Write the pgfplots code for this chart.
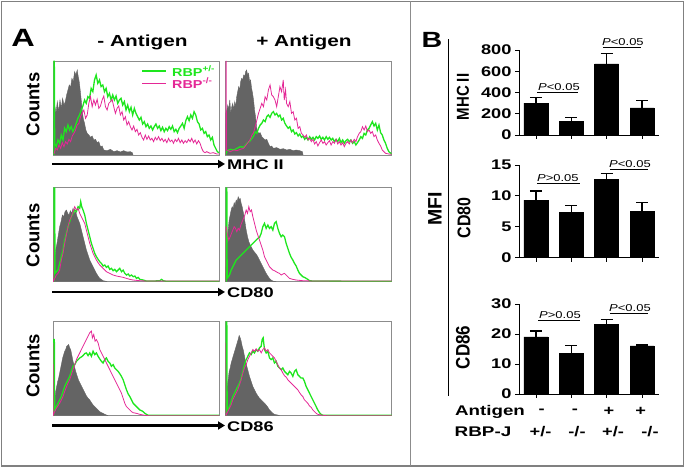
\documentclass[border=0pt]{standalone}
\usepackage{pgfplots}
\pgfplotsset{compat=1.18}
\usepackage{fontspec}
\setmainfont{Liberation Sans}
\usetikzlibrary{arrows.meta}
\definecolor{hgreen}{RGB}{30,230,30}
\definecolor{hmag}{RGB}{228,40,150}
\definecolor{hgray}{RGB}{100,100,100}
\newcommand\h[2][1.3]{\scalebox{#1}[1]{#2}}
\newcommand\fs[1]{\fontsize{#1}{#1}\selectfont}
\pgfplotsset{
  hist/.style={scale only axis, width=166pt, height=94pt, xtick=\empty, ytick=\empty,
    y dir=reverse, axis line style={black!45, line width=0.7pt}, clip=true, anchor=south west},
  gfill/.style={fill=hgray, draw=hgray, line width=0.4pt},
  gline/.style={hgreen, line width=1.3pt},
  mline/.style={hmag, line width=0.8pt},
  bars/.style={scale only axis, width=140pt, anchor=south west, ymin=0, xmin=0.52, xmax=4.48,
    axis x line*=bottom, axis y line*=left, axis line style={-, line width=0.8pt},
    xtick={1,2,3,4}, xticklabels={}, tick align=outside, major tick length=4pt,
    tick style={black, line width=0.8pt},
    /pgf/number format/assume math mode=true,
    yticklabel style={font=\bfseries\fs{14}},
    yticklabel={\h{\pgfmathprintnumber{\tick}}},
    ybar, bar width=24pt, clip=false},
  ebar/.style={fill=black, draw=black,
    error bars/.cd, y dir=plus, y explicit,
    error bar style={line width=1.2pt, black},
    error mark options={rotate=90, mark size=6pt, line width=1.2pt, black}},
}
\newcommand\pv[1]{\h{\fs{10}\textit{P}#1}}
\begin{document}
\begin{tikzpicture}[x=1pt,y=1pt]
\useasboundingbox (0,0) rectangle (685,468);
% frame
\draw[black!50, line width=1.2pt] (1.5,2) rectangle (683.5,466.5);
\draw[black!45, line width=1pt] (410,2) -- (410,466.5);
\draw[black, line width=0.8pt] (448,72) -- (448,429);
% panel A texts
\node at (23,430.5) {\h{\bfseries\fs{25}A}};
\node at (142.5,425.5) {\h{\bfseries\fs{16}- Antigen}};
\node at (304,425.5) {\h{\bfseries\fs{16}+ Antigen}};
\node[rotate=90] at (33,363.5) {\bfseries\fs{18.5}Counts};
\node[rotate=90] at (33,232.5) {\bfseries\fs{18.5}Counts};
\node[rotate=90] at (33,102) {\bfseries\fs{18.5}Counts};
\draw[line width=2.5pt, -{Triangle[length=7pt,width=8pt]}] (52,304) -- (225,304);
\draw[line width=2.5pt, -{Triangle[length=7pt,width=8pt]}] (52,176) -- (225,176);
\draw[line width=2.5pt, -{Triangle[length=7pt,width=8pt]}] (52,42.5) -- (225,42.5);
\node[anchor=west, inner sep=0pt] at (227,303) {\h{\bfseries\fs{14}MHC II}};
\node[anchor=west, inner sep=0pt] at (227,175) {\h{\bfseries\fs{14}CD80}};
\node[anchor=west, inner sep=0pt] at (227,41) {\h{\bfseries\fs{14}CD86}};

% ---------- P1: MHC II, - antigen
\begin{axis}[hist, at={(53pt,313pt)}, xmin=157, xmax=657, ymin=183, ymax=465]
\addplot[gfill] coordinates {(157,465) (158,330) (162,315) (166,340) (170,305) (174,335) (178,300) (182,325) (186,295) (190,315) (194,305) (198,285) (202,270) (206,255) (210,262) (214,235) (218,245) (222,215) (226,225) (230,210) (233,230) (236,245) (240,280) (244,320) (248,355) (252,370) (256,390) (260,400) (265,405) (270,412) (275,408) (280,420) (285,418) (290,428) (295,425) (300,440) (305,438) (310,450) (320,452) (330,448) (340,455) (350,452) (360,456) (370,452) (380,456) (390,455) (396,458) (398,465)};
\addplot[gline] coordinates {(160,465) (160,184) (161,184) (162,430) (167,440) (172,420) (177,430) (182,405) (187,420) (192,385) (197,395) (202,375) (207,390) (212,380) (217,395) (222,385) (227,370) (232,355) (237,345) (242,330) (247,318) (252,300) (257,310) (262,290) (267,295) (272,265) (277,275) (282,240) (287,225) (292,250) (297,240) (302,260) (307,255) (312,275) (317,265) (322,290) (327,280) (332,300) (337,285) (342,300) (347,288) (352,310) (357,300) (362,295) (367,315) (372,305) (377,330) (382,315) (387,335) (392,322) (397,345) (402,325) (407,340) (412,350) (417,360) (422,352) (427,372) (432,365) (437,380) (442,372) (447,385) (452,378) (457,390) (462,380) (467,372) (472,385) (477,378) (482,392) (487,382) (492,395) (497,385) (502,392) (507,380) (512,388) (517,378) (522,395) (527,388) (532,398) (537,385) (542,378) (547,370) (552,385) (557,362) (562,350) (567,362) (572,345) (577,355) (582,335) (587,345) (592,365) (597,372) (602,390) (607,385) (612,400) (617,395) (622,410) (627,405) (632,420) (637,412) (642,435) (647,445) (652,455) (657,458)};
\addplot[mline] coordinates {(160,462) (165,445) (170,450) (175,435) (180,445) (185,428) (190,440) (195,425) (200,432) (205,418) (210,425) (215,408) (220,400) (225,390) (230,375) (235,370) (240,350) (245,340) (250,330) (255,355) (260,345) (265,310) (270,290) (275,320) (280,300) (285,315) (290,298) (295,325) (300,318) (305,300) (310,288) (315,320) (320,330) (325,310) (330,305) (335,298) (340,320) (345,340) (350,325) (355,318) (360,345) (365,335) (370,360) (375,350) (380,375) (385,365) (390,380) (395,390) (400,378) (405,395) (410,388) (415,405) (420,398) (425,412) (430,420) (435,405) (440,418) (445,408) (450,420) (455,415) (460,425) (465,412) (470,420) (475,410) (480,422) (485,415) (490,425) (495,418) (500,428) (505,415) (510,425) (515,420) (520,430) (525,418) (530,425) (535,415) (540,428) (545,420) (550,430) (555,422) (560,428) (565,418) (570,425) (575,415) (580,428) (585,420) (590,432) (595,422) (600,430) (605,445) (610,455) (615,458) (620,455) (630,460) (640,458) (650,462) (657,462)};
\end{axis}
% legend of P1
\draw[hgreen, line width=1.3pt] (142,397) -- (166,397);
\draw[hmag, line width=0.8pt] (142,385) -- (166,385);
\node[anchor=west, inner sep=0pt, text=hgreen] at (172,397) {\h[1.25]{\bfseries\fs{11.5}RBP\textsuperscript{+/-}}};
\node[anchor=west, inner sep=0pt, text=hmag] at (172,385) {\h[1.25]{\bfseries\fs{11.5}RBP\textsuperscript{-/-}}};

% ---------- P2: MHC II, + antigen
\begin{axis}[hist, at={(225.5pt,313pt)}, xmin=15, xmax=518, ymin=183, ymax=465]
\addplot[gfill] coordinates {(15,465) (16,340) (19,330) (22,315) (25,330) (28,300) (31,340) (34,320) (37,310) (40,330) (43,305) (46,320) (49,290) (52,275) (55,260) (58,270) (61,245) (64,235) (67,240) (70,225) (73,230) (76,215) (79,210) (82,225) (85,220) (88,245) (91,240) (94,265) (97,280) (100,300) (103,330) (106,350) (109,380) (112,395) (116,400) (120,398) (125,410) (130,415) (135,420) (140,418) (145,430) (150,440) (155,438) (160,445) (170,443) (180,448) (190,446) (200,450) (210,448) (220,452) (230,450) (240,452) (248,455) (250,465)};
\addplot[gline] coordinates {(15,465) (20,452) (30,448) (40,450) (50,445) (60,440) (70,442) (80,430) (90,422) (95,415) (100,408) (105,395) (110,400) (115,385) (120,375) (125,370) (130,360) (135,365) (140,350) (145,345) (150,352) (155,340) (160,335) (165,345) (170,340) (175,350) (180,345) (185,360) (190,355) (195,370) (200,378) (205,385) (210,380) (215,395) (220,390) (225,402) (230,398) (235,408) (240,402) (245,412) (250,408) (255,418) (260,412) (265,420) (270,410) (275,418) (280,412) (285,420) (290,410) (295,415) (300,408) (305,418) (310,412) (315,420) (320,410) (325,418) (330,412) (335,420) (340,415) (345,425) (350,418) (355,425) (360,415) (365,428) (370,420) (375,430) (380,422) (385,418) (390,425) (395,420) (400,430) (405,425) (410,435) (415,428) (420,420) (425,410) (430,415) (435,400) (440,405) (445,390) (450,385) (455,375) (460,365) (465,378) (470,370) (475,390) (480,375) (485,398) (490,405) (495,420) (500,430) (505,445) (510,455) (518,462)};
\addplot[mline] coordinates {(15,465) (16,184) (17,184) (18,450) (30,455) (40,450) (50,452) (60,448) (70,445) (80,432) (85,425) (90,418) (95,405) (100,398) (105,380) (110,360) (115,340) (120,325) (125,310) (130,320) (135,290) (140,300) (145,270) (150,255) (155,285) (160,290) (165,300) (170,320) (175,290) (180,260) (185,275) (190,240) (193,300) (197,270) (200,310) (205,320) (210,305) (215,340) (220,335) (225,360) (230,355) (235,385) (240,380) (245,400) (250,405) (255,412) (260,405) (265,420) (270,415) (275,425) (280,418) (285,432) (290,425) (295,438) (300,428) (305,420) (310,430) (315,425) (320,435) (325,428) (330,422) (335,435) (340,425) (345,430) (350,418) (355,432) (360,425) (365,435) (370,428) (375,440) (380,430) (385,425) (390,432) (395,420) (400,428) (405,418) (410,425) (415,410) (420,400) (425,395) (430,380) (435,390) (440,378) (445,395) (450,390) (455,400) (460,395) (465,410) (470,405) (475,420) (480,430) (485,438) (490,450) (495,455) (500,460) (510,462) (518,463)};
\end{axis}

% ---------- P3: CD80, - antigen
\begin{axis}[hist, at={(53pt,186.3pt)}, xmin=160, xmax=657, ymin=83, ymax=365]
\addplot[gfill] coordinates {(160,365) (162,330) (165,300) (168,270) (172,250) (176,225) (180,200) (184,185) (188,165) (192,170) (196,155) (200,150) (204,160) (208,165) (212,152) (216,160) (220,145) (224,160) (228,155) (232,170) (236,180) (240,190) (245,210) (250,230) (255,250) (260,270) (265,285) (270,300) (275,310) (280,320) (285,330) (290,340) (295,348) (300,355) (305,358) (310,362) (320,364) (322,365)};
\addplot[gline] coordinates {(163,365) (163,84) (165,84) (166,340) (170,335) (175,330) (180,310) (185,290) (190,270) (195,240) (200,220) (205,200) (210,185) (215,170) (220,160) (225,150) (230,155) (235,140) (240,145) (243,125) (246,140) (250,150) (255,165) (260,190) (265,210) (270,230) (275,250) (280,265) (285,280) (290,290) (295,298) (300,305) (305,310) (310,318) (315,315) (320,322) (325,318) (330,328) (335,325) (340,332) (345,328) (350,335) (355,330) (360,325) (365,335) (370,330) (375,340) (380,345) (385,342) (390,348) (395,345) (400,350) (405,348) (410,355) (415,352) (420,358) (430,360) (440,363) (460,363) (480,362) (485,358) (490,362) (500,364) (657,364)};
\addplot[mline] coordinates {(160,365) (160,210) (161,365) (170,345) (175,340) (180,330) (185,300) (190,280) (195,250) (200,225) (205,200) (210,180) (215,170) (220,155) (225,140) (230,150) (235,145) (240,160) (245,170) (250,180) (255,190) (260,210) (265,230) (270,250) (275,265) (280,280) (285,290) (290,300) (295,308) (300,315) (305,320) (310,325) (320,335) (330,340) (340,345) (350,348) (360,350) (370,352) (380,355) (390,358) (400,360) (420,362) (440,363) (500,363) (600,363) (657,363)};
\end{axis}

% ---------- P4: CD80, + antigen
\begin{axis}[hist, at={(225.5pt,186.3pt)}, xmin=18, xmax=516, ymin=83, ymax=365]
\addplot[gfill] coordinates {(18,365) (20,300) (23,250) (26,210) (29,180) (32,165) (35,150) (38,140) (41,145) (44,128) (47,135) (50,120) (53,125) (56,110) (59,118) (62,115) (65,130) (68,140) (71,155) (74,170) (77,190) (80,210) (84,230) (88,245) (92,255) (96,262) (100,270) (104,275) (108,280) (112,285) (116,292) (120,300) (125,310) (130,320) (135,330) (140,340) (145,348) (150,355) (155,360) (160,363) (170,365)};
\addplot[gline] coordinates {(20,365) (20,84) (22,84) (23,355) (30,345) (35,330) (40,320) (45,310) (50,300) (55,295) (60,290) (65,285) (70,280) (75,275) (80,270) (85,265) (90,260) (95,255) (100,250) (105,245) (110,240) (115,235) (120,232) (125,220) (130,200) (135,190) (140,205) (145,195) (150,205) (155,200) (160,210) (165,190) (170,185) (175,205) (180,220) (185,230) (190,225) (195,230) (200,250) (205,265) (210,280) (215,292) (220,300) (225,310) (230,318) (235,330) (240,340) (245,345) (250,350) (255,352) (260,355) (265,358) (270,362) (280,363) (516,364)};
\addplot[mline] coordinates {(18,365) (18,200) (20,200) (24,225) (28,240) (32,230) (36,220) (40,210) (44,200) (48,205) (52,215) (56,205) (60,210) (64,195) (68,185) (72,175) (76,165) (80,150) (84,160) (88,140) (92,155) (96,150) (100,170) (105,190) (110,210) (115,225) (120,240) (125,255) (130,270) (135,290) (140,300) (145,310) (150,320) (155,325) (160,330) (165,332) (170,335) (175,338) (180,340) (185,345) (190,342) (195,340) (200,345) (205,350) (210,355) (220,358) (230,360) (250,362) (280,363) (516,363)};
\end{axis}

% ---------- P5: CD86, - antigen
\begin{axis}[hist, at={(53pt,52.3pt)}, xmin=160, xmax=657, ymin=67, ymax=347]
\addplot[gfill] coordinates {(160,347) (162,320) (165,300) (168,275) (171,260) (174,245) (177,235) (180,220) (183,205) (186,190) (189,175) (192,165) (195,155) (198,150) (201,140) (204,138) (207,135) (210,145) (213,150) (216,165) (220,185) (224,200) (228,215) (232,228) (236,240) (240,248) (245,258) (250,268) (255,278) (260,288) (265,295) (270,300) (275,308) (280,315) (285,320) (290,325) (295,330) (300,335) (305,338) (310,340) (315,343) (320,345) (325,347)};
\addplot[gline] coordinates {(162,347) (162,120) (164,120) (165,330) (170,320) (175,310) (180,300) (185,290) (190,275) (195,260) (200,250) (205,240) (210,230) (215,215) (220,200) (225,195) (230,185) (235,180) (240,175) (245,172) (250,168) (255,162) (260,160) (265,168) (270,160) (275,170) (280,155) (285,165) (290,160) (295,170) (300,178) (305,185) (310,190) (315,180) (320,175) (325,185) (330,190) (335,200) (340,195) (345,205) (350,210) (355,215) (360,222) (365,230) (370,240) (375,255) (380,270) (385,282) (390,290) (395,300) (400,310) (405,315) (410,320) (415,325) (420,330) (425,332) (430,335) (435,340) (440,343) (445,346) (657,346)};
\addplot[mline] coordinates {(160,347) (160,130) (161,347) (165,335) (170,325) (175,318) (180,310) (185,300) (190,290) (195,275) (200,262) (205,250) (210,240) (215,225) (220,210) (225,195) (230,180) (235,170) (240,160) (245,150) (250,140) (255,130) (260,120) (265,110) (270,100) (275,95) (278,115) (282,105) (286,125) (290,120) (295,130) (300,150) (305,160) (310,170) (315,180) (320,190) (325,200) (330,210) (335,220) (340,230) (345,240) (350,250) (355,260) (360,270) (365,280) (370,295) (375,310) (380,320) (385,325) (390,330) (395,335) (400,338) (410,340) (420,343) (430,345) (445,347) (657,347)};
\end{axis}

% ---------- P6: CD86, + antigen
\begin{axis}[hist, at={(225.5pt,52.3pt)}, xmin=18, xmax=516, ymin=67, ymax=347]
\addplot[gfill] coordinates {(18,347) (20,290) (23,260) (26,240) (29,215) (32,205) (35,190) (38,180) (41,170) (44,160) (47,150) (50,140) (53,130) (56,120) (59,108) (62,115) (65,125) (68,140) (71,150) (74,165) (78,185) (82,200) (86,215) (90,230) (95,245) (100,260) (105,270) (110,280) (115,288) (120,295) (125,300) (130,305) (135,310) (140,315) (145,322) (150,330) (155,335) (160,340) (165,343) (175,345) (180,347)};
\addplot[gline] coordinates {(20,347) (20,68) (22,68) (23,330) (30,320) (35,305) (40,290) (45,280) (50,270) (55,260) (60,250) (65,235) (70,215) (75,195) (80,180) (85,170) (90,160) (95,165) (100,155) (105,160) (110,150) (115,155) (120,145) (125,140) (128,120) (131,115) (135,150) (140,160) (145,155) (150,175) (155,180) (160,175) (165,190) (170,185) (175,200) (180,205) (185,210) (190,205) (195,215) (200,220) (205,225) (210,215) (215,220) (220,230) (225,215) (230,210) (235,225) (240,230) (245,235) (250,235) (255,245) (260,260) (265,270) (270,280) (275,290) (280,300) (285,310) (290,320) (295,330) (300,338) (305,343) (310,346) (516,346)};
\addplot[mline] coordinates {(18,347) (18,130) (19,347) (25,335) (30,325) (35,315) (40,300) (45,290) (50,280) (55,270) (60,255) (65,240) (70,220) (75,205) (80,195) (85,180) (90,170) (95,160) (100,150) (105,155) (110,148) (115,155) (120,150) (125,160) (130,150) (135,145) (140,155) (145,150) (150,160) (155,165) (160,170) (165,175) (170,185) (175,195) (180,205) (185,210) (190,220) (195,228) (200,232) (205,240) (210,245) (215,250) (220,255) (225,260) (230,265) (235,270) (240,278) (245,285) (250,290) (255,300) (260,305) (265,310) (270,318) (275,322) (280,330) (285,335) (290,340) (295,343) (305,345) (320,347) (516,347)};
\end{axis}

% ---------- Panel B
\node at (432,428.5) {\h{\bfseries\fs{22}B}};
\node[rotate=90] at (435,259) {\bfseries\fs{19.5}MFI};
\node[rotate=90] at (463,371) {\scalebox{1}[1.15]{\bfseries\fs{15}MHC II}};
\node[rotate=90] at (464,250) {\scalebox{1}[1.15]{\bfseries\fs{16}CD80}};
\node[rotate=90] at (463,120.5) {\scalebox{1}[1.15]{\bfseries\fs{17}CD86}};

\begin{axis}[bars, at={(519pt,333pt)}, height=85pt, ymax=800, ytick={0,200,400,600,800}]
\addplot[ebar] coordinates {(1,300) +- (0,55) (2,130) +- (0,35) (3,670) +- (0,95) (4,255) +- (0,70)};
\draw[line width=0.6pt] (axis cs:1.03,400) -- (axis cs:2.19,400);
\node[above, inner sep=1.5pt] at (axis cs:1.65,400) {\pv{<0.05}};
\draw[line width=0.6pt] (axis cs:2.9,822) -- (axis cs:3.97,822);
\node[above, inner sep=1.5pt] at (axis cs:3.46,822) {\pv{<0.05}};
\end{axis}

\begin{axis}[bars, at={(519pt,210.3pt)}, height=92.7pt, ymax=15, ytick={0,5,10,15}]
\addplot[ebar] coordinates {(1,9.3) +- (0,1.5) (2,7.3) +- (0,1.1) (3,12.7) +- (0,0.9) (4,7.5) +- (0,1.4)};
\draw[line width=0.6pt] (axis cs:1.03,12.0) -- (axis cs:2.25,12.0);
\node[above, inner sep=1.5pt] at (axis cs:1.62,12.0) {\pv{>0.05}};
\draw[line width=0.6pt] (axis cs:3.1,14.3) -- (axis cs:4.17,14.3);
\node[above, inner sep=1.5pt] at (axis cs:3.66,14.3) {\pv{<0.05}};
\end{axis}

\begin{axis}[bars, at={(519pt,74pt)}, height=90pt, ymax=30, ytick={0,10,20,30}]
\addplot[ebar] coordinates {(1,19) +- (0,2) (2,13.5) +- (0,2.7) (3,23.3) +- (0,1.6) (4,16) +- (0,0.3)};
\draw[line width=0.6pt] (axis cs:1.06,24.5) -- (axis cs:2.25,24.5);
\node[above, inner sep=1.5pt] at (axis cs:1.68,24.5) {\pv{>0.05}};
\draw[line width=0.6pt] (axis cs:3.1,26.9) -- (axis cs:4.17,26.9);
\node[above, inner sep=1.5pt] at (axis cs:3.66,26.9) {\pv{<0.05}};
\end{axis}

% bottom labels
\node at (490,56.3) {\h[1.34]{\bfseries\fs{14}Antigen}};
\node at (541.7,56.3) {\h{\bfseries\fs{14}-}};
\node at (575,56.3) {\h{\bfseries\fs{14}-}};
\node at (609,56.3) {\h{\bfseries\fs{14}+}};
\node at (640.7,56.3) {\h{\bfseries\fs{14}+}};
\node at (483,36.3) {\h[1.35]{\bfseries\fs{14}RBP-J}};
\node at (540.5,36.3) {\h{\bfseries\fs{14}+/-}};
\node at (577,36.3) {\h{\bfseries\fs{14}-/-}};
\node at (613,36.3) {\h{\bfseries\fs{14}+/-}};
\node at (650,36.3) {\h{\bfseries\fs{14}-/-}};
\end{tikzpicture}
\end{document}
